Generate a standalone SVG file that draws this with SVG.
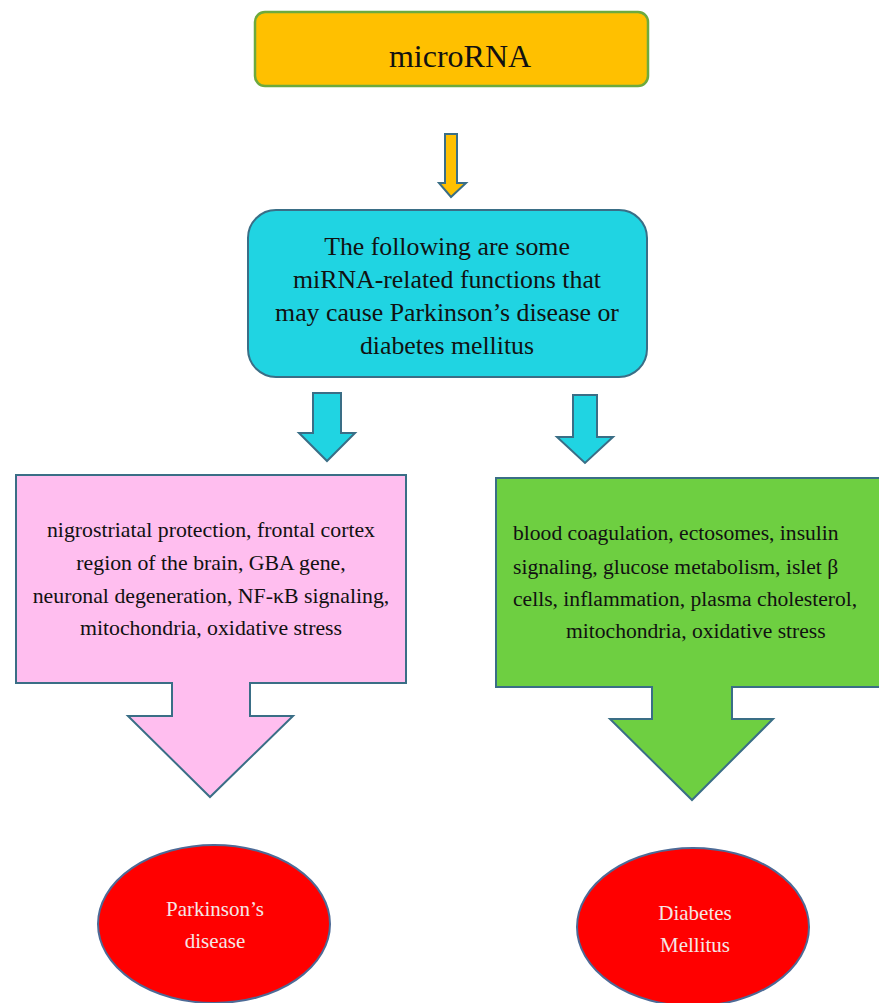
<svg xmlns="http://www.w3.org/2000/svg" width="879" height="1003" viewBox="0 0 879 1003">
<style>
.t{font-family:"Liberation Serif","Times New Roman",serif;fill:#111;}
.dark{stroke:#3A6E86;stroke-width:2;stroke-linejoin:miter;}
.ell{fill:#FF0000;stroke:#4D6A96;stroke-width:2;}
.wt{font-family:"Liberation Serif","Times New Roman",serif;fill:#F5E6E6;font-size:21px;text-anchor:middle;}
.mid{text-anchor:middle;}
</style>
<rect width="879" height="1003" fill="#FFFFFF"/>
<g id="microRNA">
<rect x="255" y="12" width="393" height="74" rx="10" fill="#FFC000" stroke="#6DAA3E" stroke-width="2.5"/>
<text x="460" y="67" font-size="32" class="t mid">microRNA</text>
</g>
<g id="functions">
<rect x="248" y="210" width="399" height="167" rx="28" fill="#20D4E2" class="dark"/>
<text x="447" y="255" font-size="25.8" class="t mid">The following are some</text>
<text x="447" y="288" font-size="25.8" class="t mid">miRNA-related functions that</text>
<text x="447" y="321" font-size="25.8" class="t mid">may cause Parkinson’s disease or</text>
<text x="447" y="354" font-size="25.8" class="t mid">diabetes mellitus</text>
</g>
<g id="connectors">
<polygon points="445,134 457,134 457,183 466,183 451,197 439,183 445,183" fill="#FFC000" class="dark"/>
<polygon points="313,393 341,393 341,433 355,433 327,461 299,433 313,433" fill="#20D4E2" class="dark"/>
<polygon points="573,395 597,395 597,437 613,437 585,463 557,437 573,437" fill="#20D4E2" class="dark"/>
</g>
<g id="pd-functions">
<polygon points="16,475 406,475 406,683 250,683 250,716 293,716 210,797 128,716 172,716 172,683 16,683" fill="#FFBEEF" class="dark"/>
<text x="211" y="537" font-size="21.8" class="t mid">nigrostriatal protection, frontal cortex</text>
<text x="211" y="570" font-size="21.8" class="t mid">region of the brain, GBA gene,</text>
<text x="211" y="603" font-size="21.8" class="t mid">neuronal degeneration, NF-κB signaling,</text>
<text x="211" y="635" font-size="21.8" class="t mid">mitochondria, oxidative stress</text>
</g>
<g id="dm-functions">
<polygon points="496,478 885,478 885,687 732,687 732,719 773,719 692,800 610,719 652,719 652,687 496,687" fill="#6ECF41" class="dark"/>
<text x="513" y="540" font-size="21.6" class="t">blood coagulation, ectosomes, insulin</text>
<text x="513" y="574" font-size="21.6" class="t">signaling, glucose metabolism, islet β</text>
<text x="513" y="606" font-size="21.6" class="t">cells, inflammation, plasma cholesterol,</text>
<text x="566" y="638" font-size="21.6" class="t">mitochondria, oxidative stress</text>
</g>
<g id="parkinsons">
<ellipse cx="214" cy="924" rx="116" ry="79" class="ell"/>
<text x="215" y="916" class="wt">Parkinson’s</text>
<text x="215" y="948" class="wt">disease</text>
</g>
<g id="diabetes">
<ellipse cx="693" cy="927" rx="116" ry="79" class="ell"/>
<text x="695" y="920" class="wt">Diabetes</text>
<text x="695" y="952" class="wt">Mellitus</text>
</g>
</svg>
